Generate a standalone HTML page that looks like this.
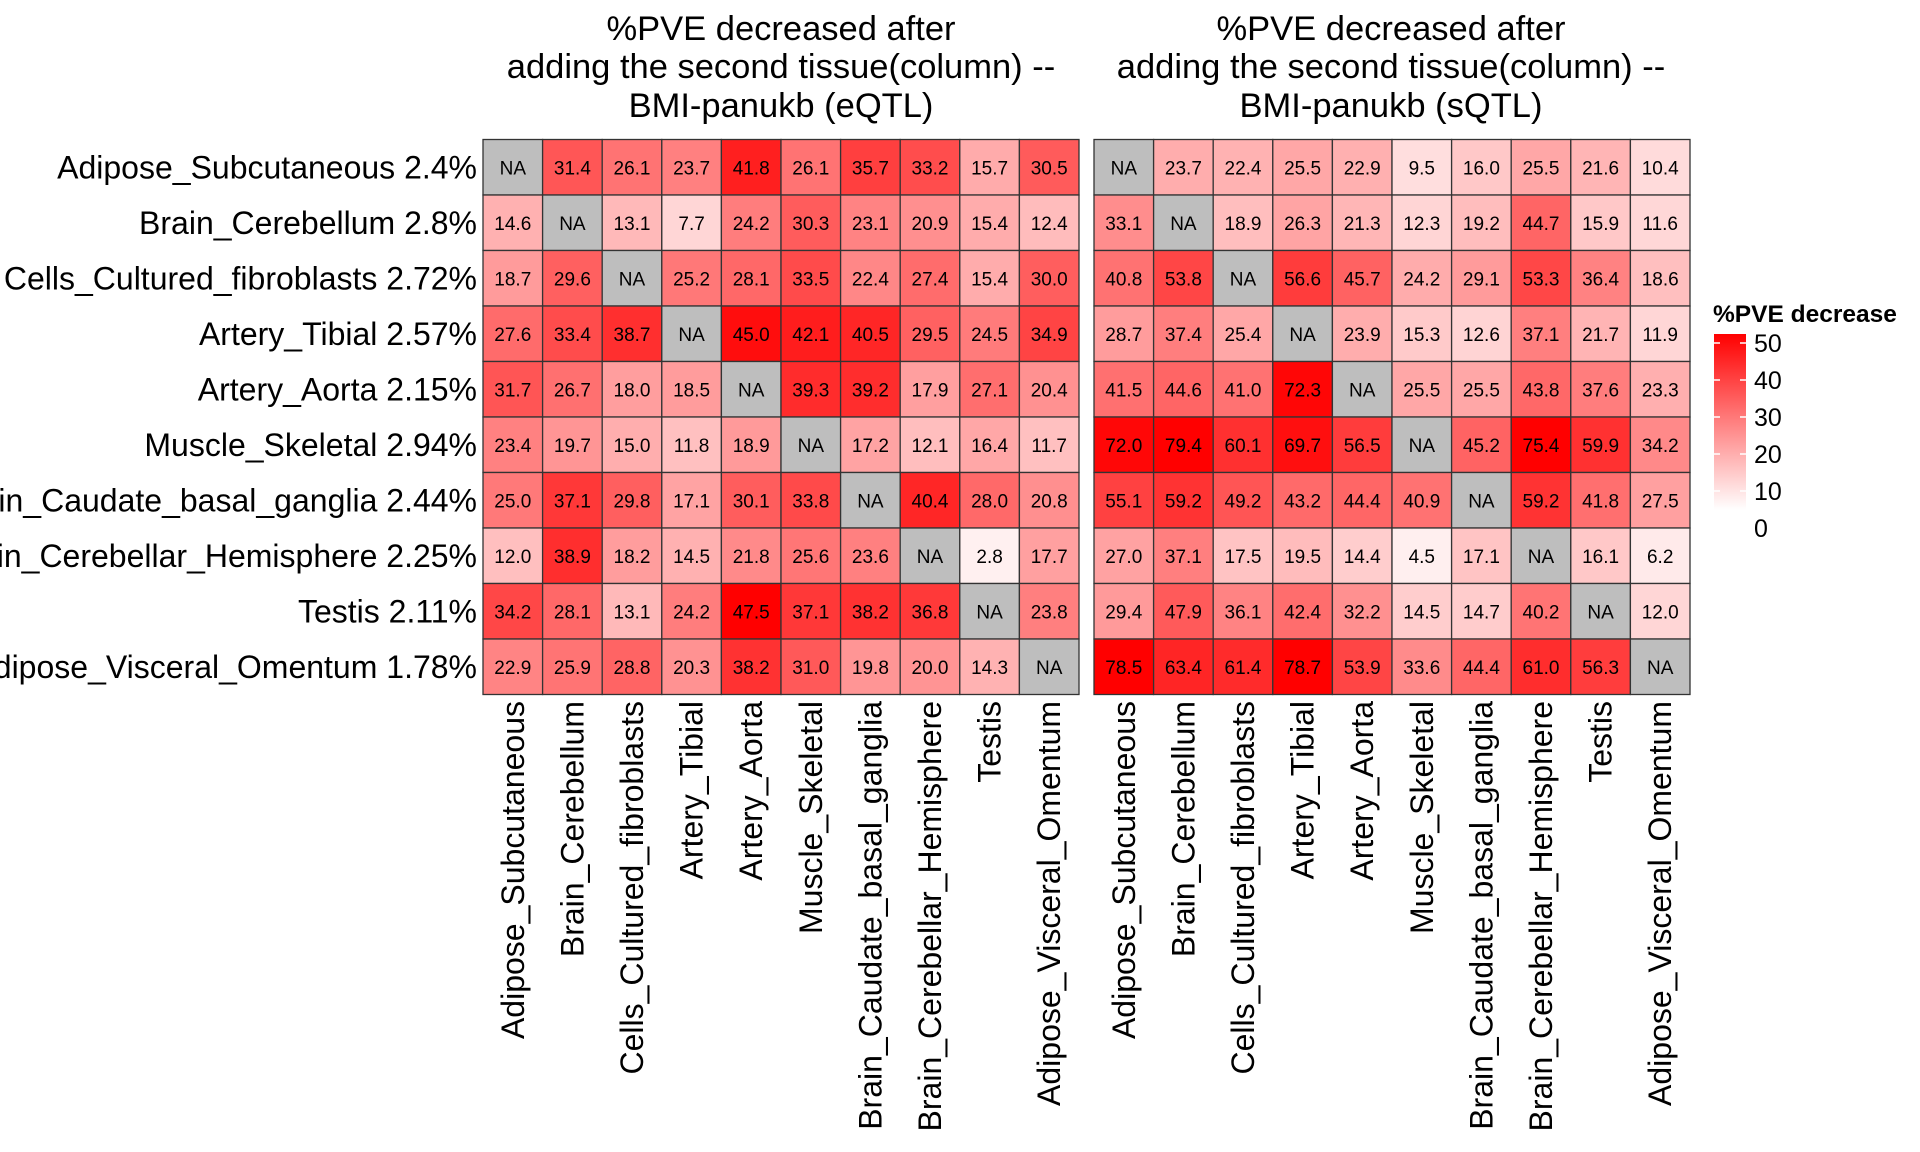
<!DOCTYPE html>
<html><head><meta charset="utf-8"><style>
html,body{margin:0;padding:0;background:#fff;width:1920px;height:1152px;overflow:hidden}
svg{font-family:"Liberation Sans",sans-serif}
</style></head><body>
<svg id="chart" width="1920" height="1152" xmlns="http://www.w3.org/2000/svg">
<g font-size="34.5" text-anchor="middle" fill="#000">
<text x="781" y="40">%PVE decreased after</text>
<text x="781" y="78">adding the second tissue(column) --</text>
<text x="781" y="117">BMI-panukb (eQTL)</text>
</g>
<g font-size="34.5" text-anchor="middle" fill="#000">
<text x="1391" y="40">%PVE decreased after</text>
<text x="1391" y="78">adding the second tissue(column) --</text>
<text x="1391" y="117">BMI-panukb (sQTL)</text>
</g>
</svg>
<script>
const rowLabels=["Adipose_Subcutaneous 2.4%","Brain_Cerebellum 2.8%","Cells_Cultured_fibroblasts 2.72%","Artery_Tibial 2.57%","Artery_Aorta 2.15%","Muscle_Skeletal 2.94%","Brain_Caudate_basal_ganglia 2.44%","Brain_Cerebellar_Hemisphere 2.25%","Testis 2.11%","Adipose_Visceral_Omentum 1.78%"];
const colLabels=["Adipose_Subcutaneous","Brain_Cerebellum","Cells_Cultured_fibroblasts","Artery_Tibial","Artery_Aorta","Muscle_Skeletal","Brain_Caudate_basal_ganglia","Brain_Cerebellar_Hemisphere","Testis","Adipose_Visceral_Omentum"];
const eqtlValues=[
[null,31.4,26.1,23.7,41.8,26.1,35.7,33.2,15.7,30.5],
[14.6,null,13.1,7.7,24.2,30.3,23.1,20.9,15.4,12.4],
[18.7,29.6,null,25.2,28.1,33.5,22.4,27.4,15.4,30.0],
[27.6,33.4,38.7,null,45.0,42.1,40.5,29.5,24.5,34.9],
[31.7,26.7,18.0,18.5,null,39.3,39.2,17.9,27.1,20.4],
[23.4,19.7,15.0,11.8,18.9,null,17.2,12.1,16.4,11.7],
[25.0,37.1,29.8,17.1,30.1,33.8,null,40.4,28.0,20.8],
[12.0,38.9,18.2,14.5,21.8,25.6,23.6,null,2.8,17.7],
[34.2,28.1,13.1,24.2,47.5,37.1,38.2,36.8,null,23.8],
[22.9,25.9,28.8,20.3,38.2,31.0,19.8,20.0,14.3,null]];
const sqtlValues=[
[null,23.7,22.4,25.5,22.9,9.5,16.0,25.5,21.6,10.4],
[33.1,null,18.9,26.3,21.3,12.3,19.2,44.7,15.9,11.6],
[40.8,53.8,null,56.6,45.7,24.2,29.1,53.3,36.4,18.6],
[28.7,37.4,25.4,null,23.9,15.3,12.6,37.1,21.7,11.9],
[41.5,44.6,41.0,72.3,null,25.5,25.5,43.8,37.6,23.3],
[72.0,79.4,60.1,69.7,56.5,null,45.2,75.4,59.9,34.2],
[55.1,59.2,49.2,43.2,44.4,40.9,null,59.2,41.8,27.5],
[27.0,37.1,17.5,19.5,14.4,4.5,17.1,null,16.1,6.2],
[29.4,47.9,36.1,42.4,32.2,14.5,14.7,40.2,null,12.0],
[78.5,63.4,61.4,78.7,53.9,33.6,44.4,61.0,56.3,null]];
const legendTicks=[0,10,20,30,40,50];

const NS="http://www.w3.org/2000/svg";
const svg=document.getElementById('chart');
function mk(t,a,p){const e=document.createElementNS(NS,t);for(const k in a)e.setAttribute(k,a[k]);(p||svg).appendChild(e);return e;}
const CW=59.6, RH=55.5, TOP=139.5;
function rowY(i){return TOP+i*RH;}
function color(v,max){const t=Math.max(0,Math.min(1,v/max));const g=Math.round(255*(1-t));return `rgb(255,${g},${g})`;}

const rl=mk('g',{'font-size':32,'text-anchor':'end'});


rowLabels.forEach((r,i)=>{const t=mk('text',{x:477,y:rowY(i)+RH/2+11},rl);t.textContent=r;

});

function panel(vals,left,name,scaleMax){
  const max=Math.min(scaleMax,Math.max(...vals.flat().filter(v=>v!==null)));
  const g=mk('g',{});
  
  
  vals.forEach((row,i)=>row.forEach((v,j)=>{
    const x=left+j*CW,y=rowY(i);
    const r=mk('rect',{x:x,y:y,width:CW,height:RH,fill:v===null?'#bebebe':color(v,max),stroke:'#333','stroke-width':1.3},g);
    
    
    const t=mk('text',{x:x+CW/2,y:y+RH/2+7,'font-size':19,'text-anchor':'middle'},g);
    t.textContent=v===null?'NA':v.toFixed(1);
    
    
  }));
  colLabels.forEach((c,j)=>{
    const cx=left+j*CW+CW/2+11;
    const t=mk('text',{x:cx,y:701,'font-size':32,'text-anchor':'end',transform:`rotate(-90 ${cx} 701)`},g);
    t.textContent=c;
    
    
  });
}
panel(eqtlValues,483,'eqtl-heatmap',100);
panel(sqtlValues,1094,'sqtl-heatmap',74);

const lg=mk('g',{});


const defs=mk('defs',{},lg);
const gr=mk('linearGradient',{id:'lgG',x1:0,y1:1,x2:0,y2:0},defs);
mk('stop',{offset:0,'stop-color':'#fff'},gr);mk('stop',{offset:1,'stop-color':'#f00'},gr);
const lt=mk('text',{x:1713,y:322,'font-size':24.5,'font-weight':'bold'},lg);lt.textContent='%PVE decrease';


function ly(v){return 528-v*3.7;}
mk('rect',{x:1714,y:334,width:32,height:176,fill:'url(#lgG)'},lg);
legendTicks.forEach(v=>{
  const y=ly(v);
  if(y>=334&&y<=510){mk('line',{x1:1714,x2:1720,y1:y,y2:y,stroke:'#fff','stroke-width':1.5},lg);mk('line',{x1:1740,x2:1746,y1:y,y2:y,stroke:'#fff','stroke-width':1.5},lg);}
  const t=mk('text',{x:1754,y:y+9,'font-size':25},lg);t.textContent=v;
  
  
});
</script>
</body></html>
